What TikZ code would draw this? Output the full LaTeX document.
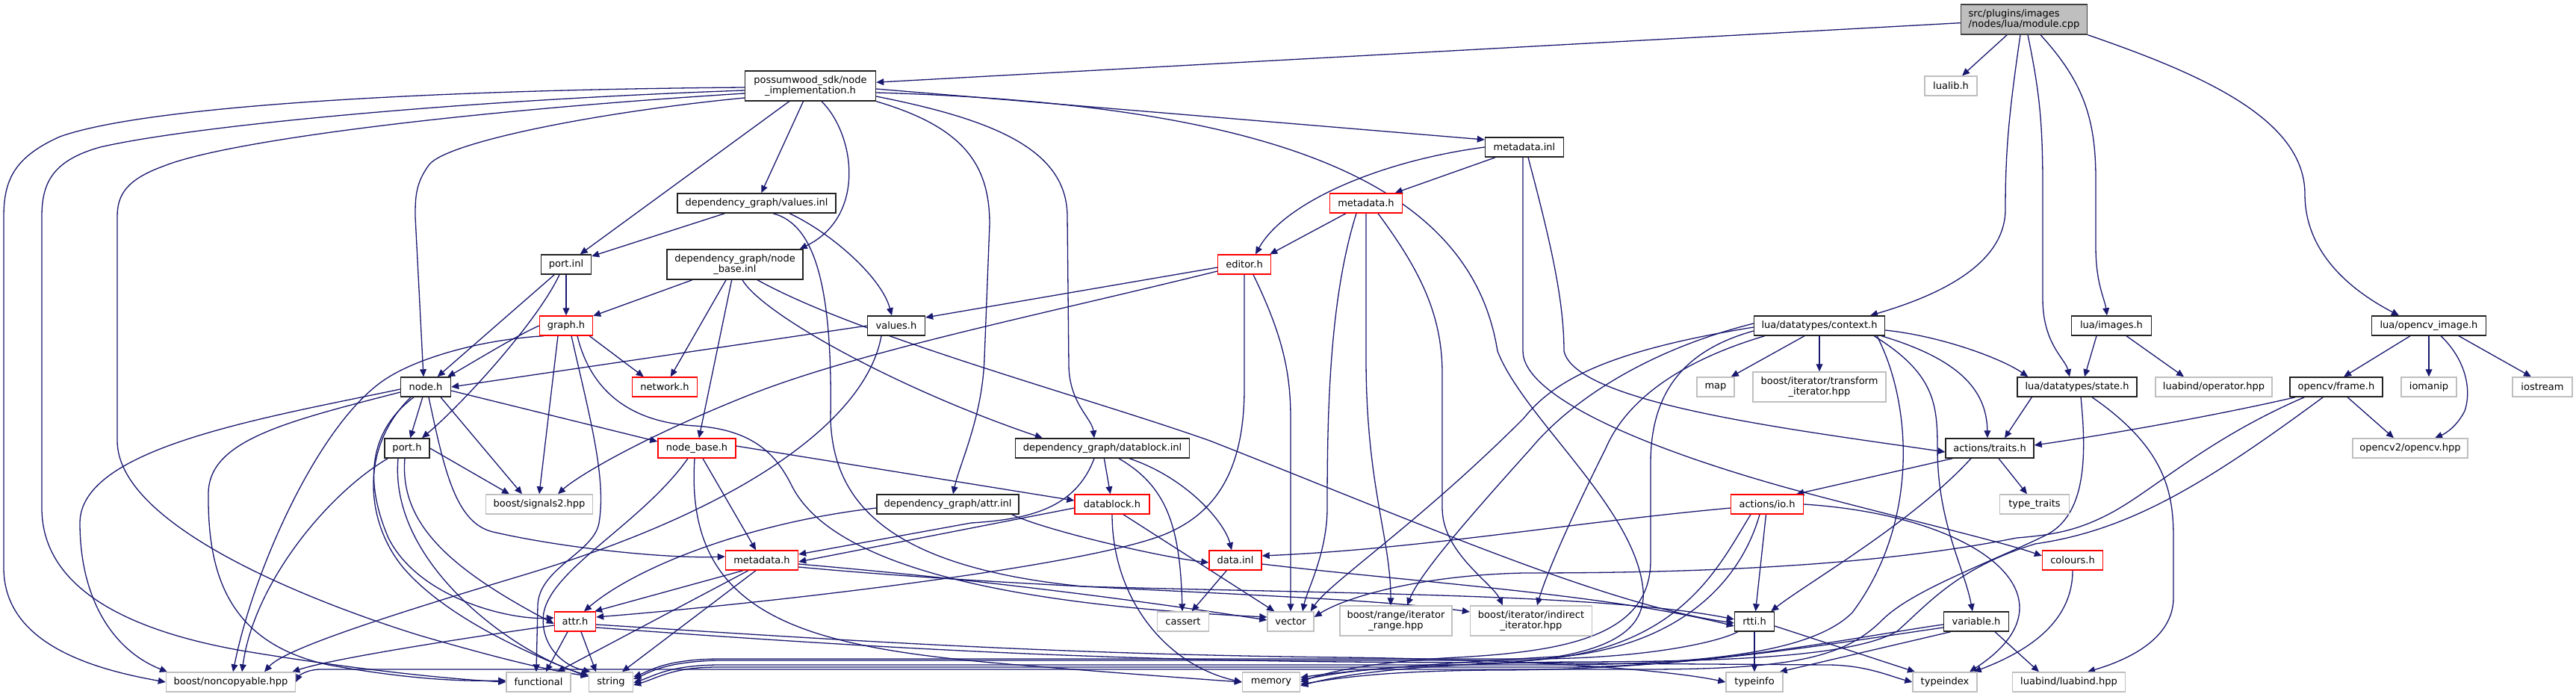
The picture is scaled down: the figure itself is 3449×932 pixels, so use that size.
\documentclass[tikz,border=0pt]{standalone}
\usepackage{fontspec}
\setmainfont{DejaVu Sans}
\usetikzlibrary{arrows.meta,calc}
\definecolor{edgec}{HTML}{191970}
\definecolor{greyb}{HTML}{BFBFBF}
\definecolor{darkb}{HTML}{222222}
\definecolor{rootf}{HTML}{BFBFBF}
\definecolor{rootb}{HTML}{404040}
\pgfdeclarelayer{bgl}
\pgfdeclarelayer{edges}
\pgfsetlayers{bgl,edges,main}
\tikzset{
 base/.style={rectangle, inner sep=0pt, minimum height=13pt, font=\fontsize{6.5pt}{7.3pt}\selectfont, align=center, line width=0.7pt, fill=white},
 bk/.style={base, draw=darkb},
 rd/.style={base, draw=red},
 gy/.style={base, draw=greyb},
 rt/.style={base, draw=rootb, fill=rootf, align=left},
 two/.style={minimum height=20pt},
 wd/.style={minimum width=#1*0.5pt},
 e/.style={draw=edgec, line width=0.65pt, -{Triangle[length=5pt,width=4.4pt]}},
}
\begin{document}
\begin{tikzpicture}[x=0.5pt,y=0.5pt]
\begin{pgfonlayer}{bgl}
\fill[white] (0,0) rectangle (3449,-932);
\end{pgfonlayer}
\useasboundingbox (0,0) rectangle (3449,-932);
% nodes
\node[rt,two,wd=169] (mod) at (2710,-26) {src/plugins/images\\/nodes/lua/module.cpp};
\node[bk,two,wd=175] (ni) at (1085,-115) {possumwood\_sdk/node\\\_implementation.h};
\node[gy,wd=70] (lualib) at (2612,-115) {lualib.h};
\node[bk,wd=105] (mi) at (2041,-197) {metadata.inl};
\node[bk,wd=212] (vi) at (1013,-272) {dependency\_graph/values.inl};
\node[rd,wd=97] (mt) at (1829,-272) {metadata.h};
\node[bk,wd=67] (pi) at (758,-354) {port.inl};
\node[bk,two,wd=182] (nbi) at (984,-354) {dependency\_graph/node\\\_base.inl};
\node[rd,wd=71] (ed) at (1666,-354) {editor.h};
\node[rd,wd=71] (gr) at (758,-436) {graph.h};
\node[bk,wd=77] (vh) at (1200,-436) {values.h};
\node[bk,wd=175] (ctx) at (2436,-436) {lua/datatypes/context.h};
\node[bk,wd=107] (img) at (2827,-436) {lua/images.h};
\node[bk,wd=153] (ocvi) at (3252,-436) {lua/opencv\_image.h};
\node[bk,wd=67] (nd) at (570,-518) {node.h};
\node[rd,wd=87] (net) at (890,-518) {network.h};
\node[gy,wd=50] (map) at (2297,-518) {map};
\node[gy,two,wd=178] (tri) at (2436,-518) {boost/iterator/transform\\\_iterator.hpp};
\node[bk,wd=160] (st) at (2781,-518) {lua/datatypes/state.h};
\node[gy,wd=156] (lop) at (2964,-518) {luabind/operator.hpp};
\node[bk,wd=124] (fr) at (3128,-518) {opencv/frame.h};
\node[gy,wd=74] (iom) at (3252,-518) {iomanip};
\node[gy,wd=80] (ios) at (3404,-518) {iostream};
\node[bk,wd=60] (ph) at (545,-600) {port.h};
\node[rd,wd=104] (nb) at (933,-600) {node\_base.h};
\node[bk,wd=233] (dbi) at (1476,-600) {dependency\_graph/datablock.inl};
\node[bk,wd=118] (tr) at (2664,-600) {actions/traits.h};
\node[gy,wd=154] (ocv) at (3227,-600) {opencv2/opencv.hpp};
\node[gy,wd=143] (sig) at (722,-675) {boost/signals2.hpp};
\node[bk,wd=190] (ai) at (1269,-675) {dependency\_graph/attr.inl};
\node[rd,wd=100] (db) at (1489,-675) {datablock.h};
\node[rd,wd=97] (io) at (2366,-675) {actions/io.h};
\node[gy,wd=93] (tt) at (2724,-675) {type\_traits};
\node[rd,wd=97] (mb) at (1020,-750) {metadata.h};
\node[rd,wd=70] (di) at (1654,-750) {data.inl};
\node[rd,wd=81] (col) at (2775,-750) {colours.h};
\node[rd,wd=55] (at) at (770,-832) {attr.h};
\node[gy,wd=69] (cas) at (1584,-832) {cassert};
\node[gy,wd=62] (vec) at (1728,-832) {vector};
\node[gy,two,wd=150] (rng) at (1869,-831) {boost/range/iterator\\\_range.hpp};
\node[gy,two,wd=163] (ind) at (2050,-831) {boost/iterator/indirect\\\_iterator.hpp};
\node[bk,wd=53] (rtti) at (2349,-832) {rtti.h};
\node[bk,wd=87] (var) at (2646,-832) {variable.h};
\node[gy,wd=173] (nc) at (309,-913) {boost/noncopyable.hpp};
\node[gy,wd=86] (fn) at (721,-913) {functional};
\node[gy,wd=59] (str) at (818,-913) {string};
\node[gy,wd=77] (mem) at (1702,-913) {memory};
\node[gy,wd=76] (tinfo) at (2349,-913) {typeinfo};
\node[gy,wd=86] (tidx) at (2604,-913) {typeindex};
\node[gy,wd=151] (lb) at (2770,-913) {luabind/luabind.hpp};

\begin{pgfonlayer}{edges}
% module
\draw[e] (mod) -- (ni);
\draw[e] (mod) -- (lualib);
\draw[e] ($(mod.south)+(-5,0)$) .. controls (2690,-150) and (2685,-200) .. (2685,-280) .. controls (2685,-360) and (2580,-400) .. ($(ctx.north)+(68,0)$);
\draw[e] ($(mod.south)+(5,0)$) .. controls (2730,-120) and (2735,-160) .. (2735,-250) -- (2735,-400) .. controls (2735,-460) and (2765,-480) .. ($(st.north)+(-10,0)$);
\draw[e] ($(mod.south)+(22,0)$) .. controls (2790,-110) and (2806,-160) .. (2806,-240) -- (2806,-330) .. controls (2806,-380) and (2818,-400) .. ($(img.north)+(-6,0)$);
\draw[e] (mod.south east) .. controls (2950,-100) and (3086,-160) .. (3086,-260) .. controls (3086,-340) and (3150,-390) .. ($(ocvi.north)+(-40,0)$);
% node_implementation
\draw[e] ($(ni.west)+(0,-2)$) .. controls (600,-120) and (200,-140) .. (80,-183) .. controls (20,-210) and (5,-240) .. (5,-290) -- (5,-760) .. controls (5,-860) and (120,-895) .. (nc.west);
\draw[e] ($(ni.west)+(0,-6)$) .. controls (600,-135) and (250,-170) .. (134,-197) .. controls (70,-215) and (56,-245) .. (56,-290) -- (56,-680) .. controls (56,-800) and (200,-850) .. (330,-872) .. controls (500,-900) and (620,-910) .. (fn.west);
\draw[e] ($(ni.west)+(0,-10)$) .. controls (600,-150) and (300,-190) .. (220,-222) .. controls (170,-240) and (157,-260) .. (157,-290) -- (157,-590) .. controls (157,-700) and (400,-800) .. (560,-850) .. controls (680,-885) and (740,-898) .. ($(str.west)+(0,8)$);
\draw[e] ($(ni.west)+(0,-16)$) .. controls (800,-150) and (600,-190) .. (575,-220) .. controls (556,-245) and (556,-265) .. (556,-290) -- ($(nd.north)+(-3,0)$);
\draw[e] (ni) -- (pi);
\draw[e] (ni) -- (vi);
\draw[e] ($(ni.south)+(15,0)$) .. controls (1145,-180) and (1160,-290) .. ($(nbi.north east)+(-5,0)$);
\draw[e] (ni.south east) .. controls (1290,-170) and (1325,-220) .. (1325,-300) -- (1318,-480) .. controls (1315,-560) and (1285,-620) .. ($(ai.north)+(7,0)$);
\draw[e] ($(ni.east)+(0,-14)$) .. controls (1330,-160) and (1429,-200) .. (1429,-290) -- (1431,-490) .. controls (1432,-540) and (1462,-560) .. ($(dbi.north)+(-11,0)$);
\draw[e] ($(ni.east)+(0,-4)$) -- ($(mi.west)+(0,10)$);
\draw[e] ($(ni.east)+(0,-9)$) .. controls (1720,-140) and (1970,-250) .. (2005,-470) .. controls (2040,-560) and (2190,-680) .. (2200,-790) .. controls (2205,-860) and (2120,-886) .. (1950,-890) .. controls (1830,-892) and (1770,-905) .. ($(mem.east)+(0,3)$);
% values.inl
\draw[e] (vi) -- (pi);
\draw[e] ($(vi.south)+(44,0)$) .. controls (1110,-310) and (1180,-370) .. ($(vh.north)+(-6,0)$);
\draw[e] ($(vi.south)+(22,0)$) .. controls (1090,-300) and (1115,-380) .. (1112,-560) .. controls (1115,-680) and (1200,-760) .. (1450,-785) .. controls (1800,-795) and (2150,-795) .. ($(rtti.west)+(0,3)$);
% port.inl
\draw[e] (pi) -- (nd);
\draw[e] ($(pi.south)+(-9,0)$) .. controls (720,-430) and (620,-540) .. ($(ph.north)+(20,0)$);
\draw[e] (pi) -- (gr);
% node_base.inl
\draw[e] (nbi) -- (gr);
\draw[e] (nbi) -- (net);
\draw[e] (nbi) -- (nb);
\draw[e] ($(nbi.south)+(10,0)$) .. controls (1020,-420) and (1200,-520) .. ($(dbi.north west)+(37,0)$);
\draw[e] ($(nbi.south)+(30,0)$) .. controls (1150,-450) and (1450,-530) .. (1620,-590) .. controls (1900,-700) and (2150,-810) .. ($(rtti.west)+(0,-2)$);
% metadata.inl
\draw[e] (mi) -- (mt);
\draw[e] (mi.west) .. controls (1850,-215) and (1720,-270) .. ($(ed.north)+(15,0)$);
\draw[e] ($(mi.south)+(-2,0)$) -- (2039,-470) .. controls (2039,-530) and (2200,-600) .. (2400,-655) .. controls (2550,-695) and (2680,-725) .. ($(col.west)+(0,6)$);
\draw[e] ($(mi.south)+(5,0)$) .. controls (2075,-320) and (2094,-400) .. (2094,-470) .. controls (2110,-540) and (2400,-575) .. ($(tr.west)+(0,-5)$);
% metadata.h (top)
\draw[e] ($(mt.south)+(-27,0)$) -- ($(ed.north east)+(-2,0)$);
\draw[e] ($(mt.south)+(-13,0)$) .. controls (1780,-400) and (1777,-550) .. (1777,-680) .. controls (1777,-740) and (1750,-790) .. ($(vec.north)+(16,0)$);
\draw[e] (mt.south) -- (1829,-480) .. controls (1829,-650) and (1862,-720) .. ($(rng.north)+(-7,0)$);
\draw[e] ($(mt.south)+(16,0)$) .. controls (1900,-360) and (1931,-420) .. (1931,-500) -- (1931,-680) .. controls (1931,-740) and (1998,-780) .. ($(ind.north)+(-38,0)$);
% editor.h
\draw[e] ($(ed.west)+(0,-4)$) -- ($(vh.east)+(0,11)$);
\draw[e] ($(ed.west)+(0,-9)$) .. controls (1400,-420) and (1150,-470) .. (1000,-530) .. controls (850,-590) and (770,-640) .. ($(sig.north)+(25,0)$);
\draw[e] (ed.south) -- (1666,-520) .. controls (1666,-640) and (1620,-690) .. (1560,-715) .. controls (1450,-760) and (1000,-810) .. ($(at.east)+(0,6)$);
\draw[e] ($(ed.south)+(12,0)$) .. controls (1718,-450) and (1728,-500) .. (1728,-560) -- (vec.north);
% graph.h
\draw[e] (gr.west) .. controls (690,-450) and (625,-490) .. ($(nd.north east)+(-5,0)$);
\draw[e] ($(gr.south)+(-30,0)$) .. controls (640,-455) and (560,-480) .. (520,-505) .. controls (430,-560) and (340,-760) .. ($(nc.north)+(3,0)$);
\draw[e] ($(gr.south)+(-11,0)$) -- (sig.north);
\draw[e] ($(gr.south)+(7,0)$) .. controls (790,-560) and (812,-640) .. (802,-700) .. controls (795,-740) and (722,-760) .. (720,-810) -- ($(fn.north)+(-3,0)$);
\draw[e] ($(gr.south)+(15,0)$) .. controls (790,-520) and (840,-565) .. (930,-570) .. controls (1010,-575) and (1040,-610) .. (1060,-650) .. controls (1120,-770) and (1400,-812) .. ($(vec.west)+(0,6)$);
\draw[e] ($(gr.south east)+(-5,0)$) -- ($(net.north west)+(16,0)$);
% values.h
\draw[e] (vh.west) -- (nd.east);
\draw[e] ($(vh.south)+(-20,0)$) .. controls (1160,-560) and (1000,-680) .. (700,-770) .. controls (500,-830) and (380,-870) .. ($(nc.north)+(45,0)$);
% node.h
\draw[e] (nd) -- (ph);
\draw[e] ($(nd.south)+(20,0)$) -- ($(sig.north)+(-23,0)$);
\draw[e] ($(nd.east)+(0,-5)$) -- ($(nb.west)+(0,9)$);
\draw[e] ($(nd.west)+(0,-3)$) .. controls (350,-560) and (107,-600) .. (107,-700) .. controls (107,-800) and (150,-870) .. ($(nc.north)+(-85,0)$);
\draw[e] ($(nd.west)+(0,-7)$) .. controls (380,-565) and (280,-590) .. (279,-660) .. controls (278,-760) and (300,-860) .. (440,-890) .. controls (550,-910) and (620,-912) .. ($(fn.west)+(0,2)$);
\draw[e] ($(nd.south)+(-20,0)$) .. controls (480,-600) and (490,-700) .. (540,-760) .. controls (600,-830) and (720,-880) .. ($(str.west)+(0,7)$);
\draw[e] ($(nd.south)+(-16,0)$) .. controls (490,-580) and (490,-650) .. (520,-720) .. controls (560,-800) and (680,-830) .. ($(at.west)+(0,5)$);
\draw[e] ($(nd.south)+(4,0)$) .. controls (595,-630) and (610,-700) .. (660,-712) .. controls (760,-735) and (900,-748) .. ($(mb.west)+(0,5)$);
% port.h
\draw[e] ($(ph.south west)+(5,0)$) .. controls (440,-660) and (340,-780) .. ($(nc.north)+(15,0)$);
\draw[e] (ph.east) -- ($(sig.north)+(-40,0)$);
\draw[e] ($(ph.south)+(-3,0)$) .. controls (535,-700) and (600,-760) .. ($(at.west)+(0,-3)$);
\draw[e] ($(ph.south)+(-12,0)$) .. controls (520,-760) and (700,-880) .. ($(str.west)+(0,9)$);
% node_base.h
\draw[e] (nb) -- (mb);
\draw[e] ($(nb.south)+(-12,0)$) .. controls (860,-700) and (740,-760) .. (728,-820) .. controls (722,-860) and (750,-890) .. ($(str.north west)+(3,0)$);
\draw[e] ($(nb.south)+(-3,0)$) .. controls (915,-840) and (1100,-870) .. (1400,-893) .. controls (1550,-905) and (1620,-910) .. (mem.west);
\draw[e] ($(nb.east)+(0,3)$) -- ($(db.west)+(0,5)$);
% datablock.inl
\draw[e] (dbi) -- (db);
\draw[e] ($(dbi.south)+(-11,0)$) .. controls (1440,-680) and (1380,-695) .. (1300,-700) -- ($(mb.east)+(0,8)$);
\draw[e] ($(dbi.south)+(22,0)$) .. controls (1560,-650) and (1580,-700) .. ($(cas.north)+(-1,0)$);
\draw[e] ($(dbi.south)+(36,0)$) .. controls (1590,-640) and (1640,-700) .. ($(di.north)+(-5,0)$);
% datablock.h
\draw[e] ($(db.west)+(0,-5)$) -- ($(mb.east)+(0,-2)$);
\draw[e] (db.south) .. controls (1489,-800) and (1560,-890) .. (mem.west);
\draw[e] ($(db.south)+(15,0)$) -- ($(vec.north west)+(10,0)$);
% attr.inl
\draw[e] ($(ai.west)+(0,-5)$) .. controls (1000,-700) and (850,-760) .. ($(at.north)+(12,0)$);
\draw[e] ($(ai.south east)+(-10,0)$) .. controls (1400,-710) and (1550,-745) .. ($(di.west)+(0,-3)$);
% metadata.h (bottom)
\draw[e] ($(mb.south)+(-25,0)$) -- ($(at.north east)+(-2,0)$);
\draw[e] ($(mb.south)+(-18,0)$) -- ($(fn.north)+(25,0)$);
\draw[e] ($(mb.south)+(-8,0)$) -- ($(str.north)+(15,0)$);
\draw[e] ($(mb.east)+(0,-5)$) .. controls (1300,-775) and (1500,-800) .. ($(vec.west)+(0,2)$);
\draw[e] ($(mb.east)+(0,-9)$) .. controls (1400,-790) and (1800,-795) .. ($(ind.west)+(0,12)$);
% data.inl
\draw[e] (di) -- (cas);
\draw[e] ($(di.east)+(0,-5)$) .. controls (1900,-780) and (2150,-795) .. ($(rtti.west)+(0,-6)$);
% traits
\draw[e] ($(tr.south west)+(10,0)$) -- ($(io.north east)+(-10,0)$);
\draw[e] ($(tr.south)+(-25,0)$) .. controls (2560,-700) and (2420,-780) .. ($(rtti.north east)+(-5,0)$);
\draw[e] ($(tr.south)+(12,0)$) -- ($(tt.north)+(-10,0)$);
% io
\draw[e] ($(io.west)+(0,-5)$) .. controls (2100,-700) and (1900,-735) .. ($(di.east)+(0,6)$);
\draw[e] (io) -- (rtti);
\draw[e] (io.east) .. controls (2650,-690) and (2790,-800) .. ($(tidx.north)+(33,0)$);
\draw[e] ($(io.south)+(-10,0)$) .. controls (2330,-780) and (2250,-860) .. (2100,-878) .. controls (1950,-886) and (1800,-898) .. ($(mem.east)+(0,6)$);
\draw[e] ($(io.south)+(-22,0)$) .. controls (2300,-760) and (2250,-870) .. (2050,-884) -- (960,-884) .. controls (890,-886) and (870,-900) .. ($(str.east)+(0,4)$);
% context
\draw[e] ($(ctx.west)+(0,3)$) .. controls (2200,-470) and (2100,-540) .. (2050,-600) .. controls (1960,-700) and (1900,-770) .. ($(rng.north)+(15,0)$);
\draw[e] ($(ctx.west)+(0,-2)$) .. controls (2150,-470) and (2080,-510) .. (2040,-560) .. controls (1900,-700) and (1780,-780) .. ($(vec.north east)+(-5,0)$);
\draw[e] ($(ctx.south west)+(15,0)$) .. controls (2260,-480) and (2180,-530) .. (2150,-600) .. controls (2100,-700) and (2070,-770) .. ($(ind.north)+(8,0)$);
\draw[e] ($(ctx.west)+(0,-7)$) .. controls (2250,-470) and (2210,-530) .. (2210,-620) -- (2210,-750) .. controls (2210,-850) and (2100,-872) .. (1950,-880) .. controls (1850,-885) and (1780,-898) .. (mem.east);
\draw[e] ($(ctx.south)+(-20,0)$) -- ($(map.north east)+(-5,0)$);
\draw[e] (ctx) -- (tri);
\draw[e] ($(ctx.south)+(77,0)$) .. controls (2560,-540) and (2570,-700) .. (2480,-820) .. controls (2430,-870) and (2300,-888) .. (2100,-890) -- (960,-890) .. controls (895,-891) and (875,-905) .. ($(str.east)+(0,-1)$);
\draw[e] ($(ctx.south east)+(-15,0)$) .. controls (2590,-500) and (2594,-540) .. (2594,-600) .. controls (2594,-700) and (2630,-760) .. ($(var.north)+(-5,0)$);
\draw[e] ($(ctx.south east)+(-5,0)$) .. controls (2620,-480) and (2660,-520) .. ($(tr.north)+(-3,0)$);
\draw[e] ($(ctx.east)+(0,-6)$) .. controls (2600,-450) and (2680,-480) .. ($(st.north west)+(15,0)$);
% images
\draw[e] ($(img.south)+(-20,0)$) -- ($(st.north)+(10,0)$);
\draw[e] ($(img.south)+(20,0)$) -- ($(lop.north)+(-40,0)$);
% opencv_image
\draw[e] ($(ocvi.south)+(-25,0)$) -- ($(fr.north)+(10,0)$);
\draw[e] (ocvi) -- (iom);
\draw[e] ($(ocvi.south)+(16,0)$) .. controls (3300,-480) and (3310,-520) .. (3300,-550) .. controls (3290,-570) and (3275,-580) .. ($(ocv.north)+(33,0)$);
\draw[e] ($(ocvi.south)+(40,0)$) -- ($(ios.north)+(-15,0)$);
% frame
\draw[e] ($(fr.south)+(15,0)$) -- ($(ocv.north)+(-22,0)$);
\draw[e] ($(fr.south west)+(8,0)$) .. controls (2950,-560) and (2800,-585) .. ($(tr.east)+(0,4)$);
\draw[e] ($(fr.south west)+(20,0)$) .. controls (2950,-590) and (2880,-660) .. (2820,-690) .. controls (2780,-710) and (2750,-716) .. (2700,-720) .. controls (2500,-760) and (2250,-767) .. (2040,-767) .. controls (1900,-770) and (1800,-800) .. ($(vec.east)+(0,6)$);
\draw[e] ($(fr.south west)+(45,0)$) .. controls (2950,-650) and (2850,-710) .. (2725,-728) .. controls (2620,-760) and (2580,-810) .. (2540,-845) .. controls (2480,-880) and (2300,-886) .. (2100,-886) .. controls (1900,-888) and (1800,-902) .. ($(mem.east)+(0,-5)$);
% state
\draw[e] ($(st.south west)+(20,0)$) -- ($(tr.north)+(20,0)$);
\draw[e] ($(st.south)+(20,0)$) .. controls (2900,-600) and (2910,-660) .. (2910,-720) -- (2910,-800) .. controls (2910,-850) and (2860,-880) .. ($(lb.north)+(25,0)$);
\draw[e] ($(st.south)+(5,0)$) .. controls (2795,-620) and (2790,-690) .. (2740,-716) .. controls (2660,-755) and (2560,-790) .. (2520,-830) .. controls (2470,-880) and (2400,-896) .. (2200,-896) -- (430,-896) .. controls (410,-896) and (400,-905) .. (nc.east);
% rtti
\draw[e] (rtti) -- (tinfo);
\draw[e] ($(rtti.east)+(0,-6)$) -- ($(tidx.north)+(-40,0)$);
\draw[e] ($(rtti.south west)+(5,0)$) .. controls (2300,-860) and (2200,-882) .. (2050,-882) -- (960,-882) .. controls (890,-883) and (870,-898) .. ($(str.east)+(0,7)$);
% variable
\draw[e] ($(var.south west)+(10,0)$) -- ($(tinfo.north east)+(-5,0)$);
\draw[e] ($(var.south)+(25,0)$) -- ($(lb.north)+(-40,0)$);
\draw[e] ($(var.west)+(0,-4)$) .. controls (2500,-850) and (2300,-892) .. (2100,-893) -- (960,-893) .. controls (900,-893) and (880,-908) .. ($(str.east)+(0,-4)$);
\draw[e] ($(var.west)+(0,-8)$) .. controls (2450,-862) and (2250,-897) .. (2000,-897) .. controls (1850,-898) and (1790,-908) .. ($(mem.east)+(0,-3)$);
% colours
\draw[e] (col.south) .. controls (2775,-830) and (2720,-870) .. ($(tidx.north east)+(-5,0)$);
% attr.h
\draw[e] ($(at.west)+(0,-5)$) .. controls (650,-850) and (450,-880) .. ($(nc.north east)+(-5,0)$);
\draw[e] ($(at.south)+(-10,0)$) -- ($(fn.north)+(10,0)$);
\draw[e] ($(at.south)+(8,0)$) -- ($(str.north)+(-20,0)$);
\draw[e] ($(at.east)+(0,-4)$) .. controls (1100,-855) and (1400,-876) .. (1800,-880) .. controls (2100,-884) and (2250,-900) .. (tinfo.west);
\draw[e] ($(at.east)+(0,-8)$) .. controls (1100,-862) and (1400,-882) .. (1800,-886) -- (2450,-890) .. controls (2500,-891) and (2530,-905) .. (tidx.west);
\end{pgfonlayer}
\end{tikzpicture}
\end{document}
